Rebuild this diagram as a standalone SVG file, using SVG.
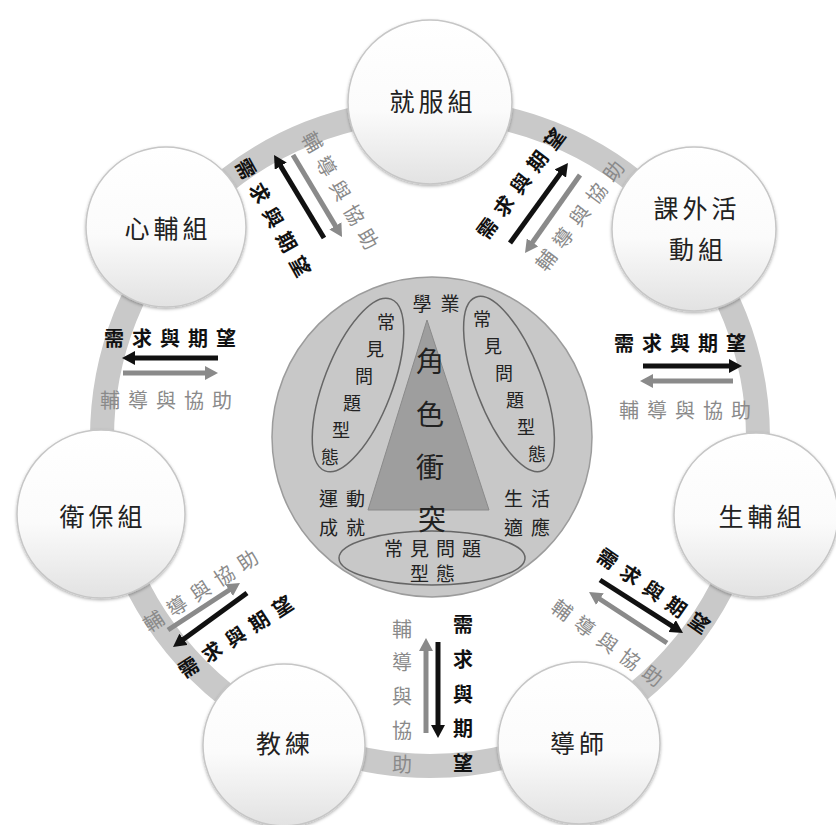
<svg xmlns="http://www.w3.org/2000/svg" width="836" height="825" viewBox="0 0 836 825">
<defs>
<linearGradient id="ng" x1="0" y1="0" x2="0" y2="1">
<stop offset="0" stop-color="#ffffff"/>
<stop offset="0.55" stop-color="#fbfbfb"/>
<stop offset="1" stop-color="#e2e2e2"/>
</linearGradient>
<filter id="sh" x="-20%" y="-20%" width="140%" height="140%">
<feDropShadow dx="0" dy="1.5" stdDeviation="1.8" flood-color="#000" flood-opacity="0.3"/>
</filter>
<marker id="hb" viewBox="0 0 13 14" refX="3" refY="7" markerWidth="13" markerHeight="14" markerUnits="userSpaceOnUse" orient="auto">
<path d="M0,0 L13,7 L0,14 z" fill="#111"/>
</marker>
<marker id="hg" viewBox="0 0 13 14" refX="3" refY="7" markerWidth="13" markerHeight="14" markerUnits="userSpaceOnUse" orient="auto">
<path d="M0,0 L13,7 L0,14 z" fill="#8a8a8a"/>
</marker>
<style>
text{font-family:"Noto Sans CJK TC","Noto Sans CJK SC",sans-serif;text-anchor:middle;dominant-baseline:central}
.node circle{fill:url(#ng);stroke:#c6c6c6;stroke-width:1.5;filter:url(#sh)}
.nl{font-size:25px;fill:#222;letter-spacing:4px}
.need{font-size:20px;font-weight:700;fill:#111;letter-spacing:8px}
.help{font-size:20px;fill:#8a8a8a;letter-spacing:8px}
.vneed{font-size:20px;font-weight:700;fill:#111}
.vhelp{font-size:20px;fill:#8a8a8a}
.ab{stroke:#111;stroke-width:5;fill:none;marker-end:url(#hb)}
.ag{stroke:#8a8a8a;stroke-width:5;fill:none;marker-end:url(#hg)}
.ct{font-size:19px;fill:#222}
.el{fill:none;stroke:#666;stroke-width:1.5}
</style>
</defs>
<rect width="836" height="825" fill="#ffffff"/>
<circle cx="430" cy="438" r="328" fill="none" stroke="#c9c9c9" stroke-width="24"/>
<g id="center">
<circle cx="432" cy="437" r="160" fill="#c8c8c8" stroke="#9c9c9c" stroke-width="1.5"/>
<polygon points="427,320 368,510 489,510" fill="#9e9e9e" stroke="#8a8a8a" stroke-width="1"/>
<ellipse class="el" cx="358" cy="385" rx="34" ry="92" transform="rotate(21 358 385)"/>
<ellipse class="el" cx="509" cy="384" rx="33" ry="93" transform="rotate(-21 509 384)"/>
<ellipse class="el" cx="432" cy="558" rx="93" ry="27"/>
<text class="ct" x="440.5" y="302" style="letter-spacing:9px">學業</text>
<text class="ct" x="386 375 364 352 341 330" y="321 348 375 402 429 456" style="font-size:18px">常見問題型態</text>
<text class="ct" x="482 493 504 515 526 537" y="318 345 372 399 426 453" style="font-size:18px">常見問題型態</text>
<text x="430 430 430 432" y="360 413 466 518" style="font-size:28px;fill:#222">角色衝突</text>
<text class="ct" x="346" y="497" style="letter-spacing:8px">運動</text>
<text class="ct" x="346" y="526" style="letter-spacing:8px">成就</text>
<text class="ct" x="531" y="497" style="letter-spacing:8px">生活</text>
<text class="ct" x="531" y="526" style="letter-spacing:8px">適應</text>
<text class="ct" x="436" y="547" style="letter-spacing:7px">常見問題</text>
<text class="ct" x="436" y="572" style="letter-spacing:7px">型態</text>
</g>
<g id="connectors">
<line class="ab" x1="324" y1="238" x2="279.2" y2="163.6"/>
<line class="ag" x1="293" y1="155" x2="336.9" y2="228.4"/>
<line class="ab" x1="510" y1="243" x2="562.1" y2="171.1"/>
<line class="ag" x1="580" y1="175" x2="530.8" y2="244.8"/>
<line class="ab" x1="643" y1="366" x2="732" y2="366"/>
<line class="ag" x1="733" y1="381" x2="650" y2="381"/>
<line class="ab" x1="218" y1="358" x2="132" y2="358"/>
<line class="ag" x1="123" y1="373" x2="208" y2="373"/>
<line class="ag" x1="426" y1="733" x2="426" y2="648"/>
<line class="ab" x1="438" y1="642" x2="438" y2="728"/>
<line class="ag" x1="168" y1="630" x2="231.6" y2="588.5"/>
<line class="ab" x1="247" y1="593" x2="181.1" y2="641.1"/>
<line class="ab" x1="600" y1="580" x2="674.6" y2="627.6"/>
<line class="ag" x1="667" y1="643" x2="597.4" y2="597.5"/>
</g>
<g id="node-jiufu" class="node"><circle cx="430" cy="102" r="82"/><text class="nl" x="433" y="100">就服組</text></g>
<g id="node-kewai" class="node"><circle cx="694" cy="229" r="82"/><text class="nl" x="697" y="207">課外活</text><text class="nl" x="698" y="248">動組</text></g>
<g id="node-shengfu" class="node"><circle cx="756" cy="515" r="82"/><text class="nl" x="762" y="515">生輔組</text></g>
<g id="node-daoshi" class="node"><circle cx="579" cy="743" r="81"/><text class="nl" x="579" y="742">導師</text></g>
<g id="node-jiaolian" class="node"><circle cx="284" cy="745" r="81"/><text class="nl" x="285" y="742">教練</text></g>
<g id="node-weibao" class="node"><circle cx="101" cy="514" r="84"/><text class="nl" x="103" y="515">衛保組</text></g>
<g id="node-xinfu" class="node"><circle cx="166" cy="227" r="80"/><text class="nl" x="168" y="227">心輔組</text></g>
<g id="labels">
<text class="need" transform="translate(274 217) rotate(61)" x="4" y="0">需求與期望</text>
<text class="help" transform="translate(341 190) rotate(60)" x="4" y="0">輔導與協助</text>
<text class="need" transform="translate(520 183) rotate(-53)" x="4" y="0">需求與期望</text>
<text class="help" transform="translate(579 215) rotate(-53)" x="4" y="0">輔導與協助</text>
<text class="need" x="174" y="337">需求與期望</text>
<text class="help" x="170" y="399">輔導與協助</text>
<text class="need" x="684" y="342">需求與期望</text>
<text class="help" x="689" y="409">輔導與協助</text>
<text class="vhelp" x="402 402 402 402 402" y="628 661 695 729 763">輔導與協助</text>
<text class="vneed" x="463 463 463 463 463" y="623 658 693 727 762">需求與期望</text>
<text class="need" transform="translate(235 636) rotate(-33)" x="4" y="0">需求與期望</text>
<text class="help" transform="translate(200 590) rotate(-33)" x="4" y="0">輔導與協助</text>
<text class="need" transform="translate(654 590) rotate(35)" x="4" y="0">需求與期望</text>
<text class="help" transform="translate(608 642) rotate(36)" x="4" y="0">輔導與協助</text>
</g>
</svg>
